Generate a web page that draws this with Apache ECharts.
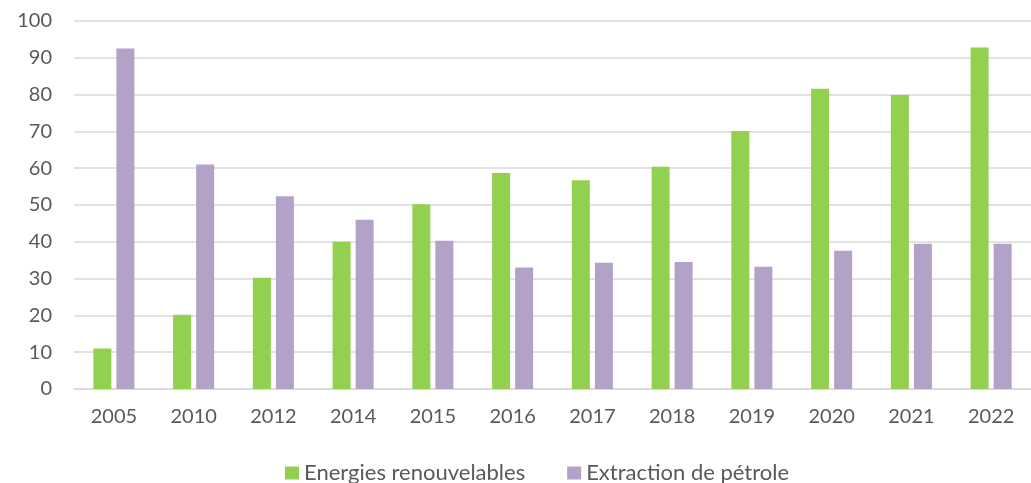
<!DOCTYPE html>
<html>
<head>
<meta charset="utf-8">
<script src="https://cdn.jsdelivr.net/npm/echarts@6/dist/echarts.min.js"></script>
<style>
  html, body { margin: 0; padding: 0; background: #ffffff; }
  #chart { width: 1031px; height: 483px; }
</style>
</head>
<body>
<div id="chart"></div>
<script>
// Years on the category axis
const years = ['2005', '2010', '2012', '2014', '2015', '2016', '2017', '2018', '2019', '2020', '2021', '2022'];

// Series values
const renouvelables = [11, 20.2, 30.2, 40, 50.2, 58.7, 56.7, 60.4, 70.1, 81.6, 79.9, 92.8];
const petrole = [92.5, 61, 52.4, 46, 40.3, 33, 34.3, 34.5, 33.2, 37.6, 39.5, 39.5];

const seriesNames = ['Energies renouvelables', 'Extraction de pétrole'];

const textColor = '#595959';
const gridColor = '#d9d9d9';
const fontFamily = 'Lato, "Open Sans", sans-serif';

const chart = echarts.init(document.getElementById('chart'), null, { renderer: 'canvas' });

chart.setOption({
  animation: false,
  textStyle: { fontFamily: fontFamily },
  grid: { left: 74, right: 0, top: 21, bottom: 94, containLabel: false },
  legend: {
    top: 462,
    left: 285,
    padding: 0,
    itemWidth: 14,
    itemHeight: 13,
    itemGap: 42,
    icon: 'rect',
    textStyle: { color: textColor, fontSize: 22, fontFamily: fontFamily },
    data: seriesNames
  },
  xAxis: {
    type: 'category',
    data: years,
    axisLine: { lineStyle: { color: gridColor, width: 1.5 } },
    axisTick: { show: false },
    axisLabel: { color: textColor, fontSize: 20, margin: 18 }
  },
  yAxis: {
    type: 'value',
    min: 0,
    max: 100,
    interval: 10,
    axisLine: { show: false },
    axisTick: { show: false },
    axisLabel: { color: textColor, fontSize: 20, margin: 22 },
    splitLine: { lineStyle: { color: gridColor, width: 1.5 } }
  },
  series: [
    {
      name: seriesNames[0],
      type: 'bar',
      data: renouvelables,
      barWidth: 18,
      barGap: '28%',
      itemStyle: { color: '#92d050' }
    },
    {
      name: seriesNames[1],
      type: 'bar',
      data: petrole,
      barWidth: 18,
      barGap: '28%',
      itemStyle: { color: '#b3a2c7' }
    }
  ]
});
</script>
</body>
</html>
